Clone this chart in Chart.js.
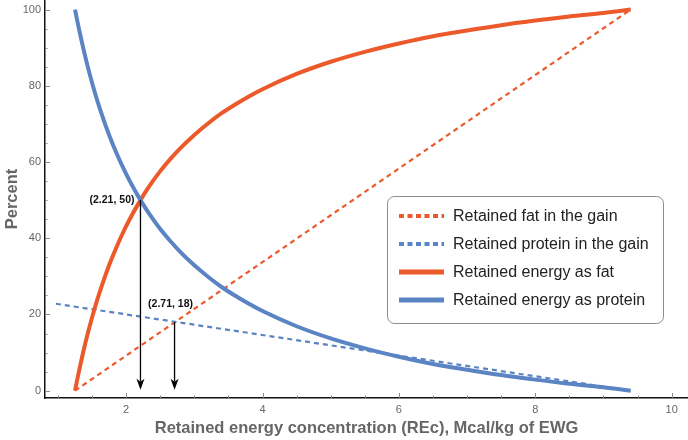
<!DOCTYPE html>
<html>
<head>
<meta charset="utf-8">
<script src="https://cdn.jsdelivr.net/npm/chart.js@4"></script>
<style>
  html, body { margin: 0; padding: 0; background: #fff; }
  #wrap { width: 688px; height: 440px; }
</style>
</head>
<body>
<div id="wrap"><canvas id="chart" width="688" height="440"></canvas></div>
<script>
// retained energy concentration (Mcal/kg EWG)
const recX = [1.25, 1.3, 1.35, 1.42, 1.5, 1.57, 1.65, 1.75, 1.85, 1.95, 2.05, 2.21, 2.35, 2.5, 2.65, 2.8, 3.0, 3.2, 3.4, 3.6, 3.8, 4.0, 4.5, 5, 5.5, 6, 6.5, 7, 7.5, 8, 8.5, 9, 9.4];
const energyFat = [0, 4.4, 8.5, 13.8, 19.2, 23.5, 27.9, 32.9, 37.3, 41.3, 44.9, 50, 53.9, 57.6, 60.8, 63.7, 67.1, 70.1, 72.8, 75.1, 77.2, 79.1, 83.1, 86.3, 88.9, 91.1, 93.0, 94.5, 95.9, 97.1, 98.2, 99.1, 100];
const energyProtein = [100, 95.6, 91.5, 86.2, 80.8, 76.5, 72.1, 67.1, 62.7, 58.7, 55.1, 50, 46.1, 42.4, 39.2, 36.3, 32.9, 29.9, 27.2, 24.9, 22.8, 20.9, 16.9, 13.7, 11.1, 8.9, 7.0, 5.5, 4.1, 2.9, 1.8, 0.9, 0];

const gainFatX = [1.25, 9.4];
const gainFat = [0, 100];
const gainProteinX = [0.97, 9.4];
const gainProtein = [22.8, 0];

const markX = [2.21, 2.71];
const markY = [50, 18];
const markLabels = ["(2.21, 50)", "(2.71, 18)"];

const xTicks = [2, 4, 6, 8, 10];
const yTicks = [0, 20, 40, 60, 80, 100];

const ORANGE = "#ec5a2c";
const BLUE = "#5b84c4";
const FONT = "'Liberation Sans', Arial, sans-serif";

Chart.defaults.font.family = FONT;

function pts(xs, ys) {
  return xs.map((x, i) => ({ x: x, y: ys[i] }));
}

// inward ticks, arrows, point labels and the boxed legend
const overlay = {
  id: "overlay",
  afterDraw(chart) {
    const ctx = chart.ctx;
    const xs = chart.scales.x, ys = chart.scales.y;
    const area = chart.chartArea;
    ctx.save();

    // minor / major ticks pointing inward
    ctx.strokeStyle = "#8a8a8a";
    ctx.lineWidth = 1;
    for (let v = 1; v <= 10.01; v += 0.5) {
      const px = Math.round(xs.getPixelForValue(v)) + 0.5;
      const len = Math.abs(v % 2) < 1e-6 ? 5 : 2.5;
      ctx.beginPath();
      ctx.moveTo(px, area.bottom);
      ctx.lineTo(px, area.bottom - len);
      ctx.stroke();
    }
    for (let v = 0; v <= 100; v += 5) {
      const py = Math.round(ys.getPixelForValue(v)) + 0.5;
      const len = v % 20 === 0 ? 5 : 2.5;
      ctx.beginPath();
      ctx.moveTo(area.left, py);
      ctx.lineTo(area.left + len, py);
      ctx.stroke();
    }

    // arrows down to the axis
    ctx.strokeStyle = "#000";
    ctx.fillStyle = "#000";
    ctx.lineWidth = 1.3;
    markX.forEach((mx, i) => {
      const px = xs.getPixelForValue(mx);
      const top = ys.getPixelForValue(markY[i]);
      const tip = ys.getPixelForValue(0) - 1;
      ctx.beginPath();
      ctx.moveTo(px, top);
      ctx.lineTo(px, tip - 8);
      ctx.stroke();
      ctx.beginPath();
      ctx.moveTo(px, tip);
      ctx.lineTo(px - 4, tip - 11);
      ctx.lineTo(px, tip - 8);
      ctx.lineTo(px + 4, tip - 11);
      ctx.closePath();
      ctx.fill();
    });

    ctx.font = "bold 10.5px " + FONT;
    ctx.fillStyle = "#111";
    ctx.textBaseline = "middle";
    ctx.textAlign = "right";
    ctx.fillText(markLabels[0], xs.getPixelForValue(markX[0]) - 6, ys.getPixelForValue(markY[0]));
    ctx.textAlign = "center";
    ctx.fillText(markLabels[1], xs.getPixelForValue(markX[1]) - 4, ys.getPixelForValue(markY[1]) - 18);

    // legend
    const bx = 387.5, by = 196.5, bw = 276, bh = 127;
    ctx.beginPath();
    ctx.roundRect(bx, by, bw, bh, 7);
    ctx.fillStyle = "#fff";
    ctx.fill();
    ctx.strokeStyle = "#8c8c8c";
    ctx.lineWidth = 1;
    ctx.stroke();

    ctx.font = "16px " + FONT;
    ctx.textAlign = "left";
    ctx.textBaseline = "middle";
    chart.data.datasets.forEach((ds, i) => {
      const y = 216 + i * 28;
      ctx.strokeStyle = ds.borderColor;
      ctx.lineWidth = ds.borderDash ? 4 : 5;
      ctx.setLineDash(ds.borderDash ? [5, 3.5] : []);
      ctx.beginPath();
      ctx.moveTo(399, y);
      ctx.lineTo(444, y);
      ctx.stroke();
      ctx.setLineDash([]);
      ctx.fillStyle = "#222";
      ctx.fillText(ds.label, 453, y + 1);
    });

    ctx.restore();
  }
};

new Chart(document.getElementById("chart"), {
  type: "line",
  data: {
    datasets: [
      {
        label: "Retained fat in the gain",
        data: pts(gainFatX, gainFat),
        borderColor: ORANGE,
        borderWidth: 2.2,
        borderDash: [5, 4],
        order: 3,
      },
      {
        label: "Retained protein in the gain",
        data: pts(gainProteinX, gainProtein),
        borderColor: BLUE,
        borderWidth: 2.2,
        borderDash: [5, 4],
        order: 2,
      },
      {
        label: "Retained energy as fat",
        data: pts(recX, energyFat),
        borderColor: ORANGE,
        borderWidth: 4,
        cubicInterpolationMode: "monotone",
        order: 1,
      },
      {
        label: "Retained energy as protein",
        data: pts(recX, energyProtein),
        borderColor: BLUE,
        borderWidth: 4,
        cubicInterpolationMode: "monotone",
        order: 0,
      },
    ],
  },
  options: {
    responsive: false,
    animation: false,
    layout: { padding: 0 },
    elements: { point: { radius: 0 } },
    plugins: {
      legend: { display: false },
      tooltip: { enabled: false },
    },
    scales: {
      x: {
        type: "linear",
        min: 0.81,
        max: 10.24,
        afterFit: (s) => {
          s.height = 42;
          s.paddingLeft = 0;
          s.paddingRight = 0;
        },
        afterBuildTicks: (s) => { s.ticks = xTicks.map((v) => ({ value: v })); },
        grid: { display: true, drawOnChartArea: false, drawTicks: false },
        border: { color: "#111", width: 1.5 },
        ticks: { color: "#666", font: { size: 11 }, padding: 5, maxRotation: 0 },
        title: {
          display: true,
          text: "Retained energy concentration (REc), Mcal/kg of EWG",
          color: "#666",
          font: { size: 16.5, weight: "bold" },
          padding: { top: 0, bottom: 2 },
        },
      },
      y: {
        min: -1.92,
        max: 102.5,
        afterFit: (s) => {
          s.width = 45;
          s.paddingTop = 0;
          s.paddingBottom = 0;
        },
        afterBuildTicks: (s) => { s.ticks = yTicks.map((v) => ({ value: v })); },
        grid: { display: true, drawOnChartArea: false, drawTicks: false },
        border: { color: "#111", width: 1.5 },
        ticks: { color: "#666", font: { size: 11 }, padding: 4 },
        title: {
          display: true,
          text: "Percent",
          color: "#666",
          font: { size: 16.5, weight: "bold" },
          padding: { top: 3, bottom: 0 },
        },
      },
    },
  },
  plugins: [overlay],
});
</script>
</body>
</html>
